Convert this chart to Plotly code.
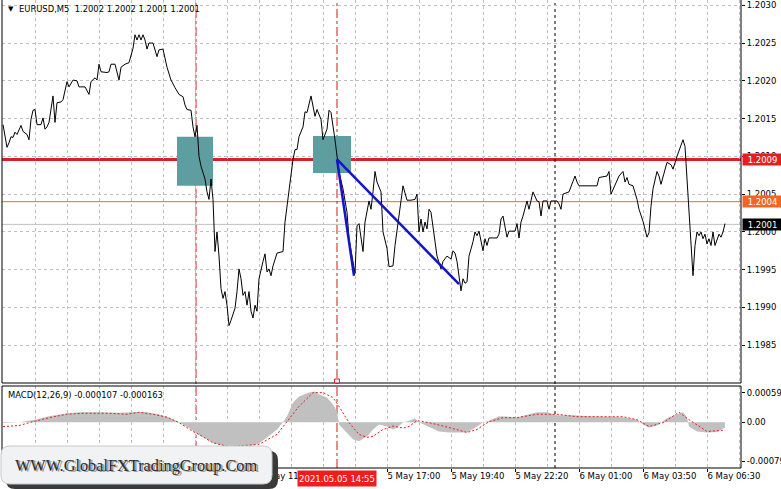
import plotly.graph_objects as go

# ---------------- data (bar index = M5 bars since 5 May 01:00) ----------------
bar_idx = [0, 2, 3, 4, 5, 6, 7, 9, 10, 12, 13, 14, 15, 16, 17, 19, 20, 21, 22, 23,
           25, 26, 27, 29, 30, 32, 33, 35, 37, 38, 41, 43, 44, 46, 47, 48, 49, 52, 53, 54,
           56, 58, 59, 61, 63, 65, 66, 67, 68, 69, 70, 71, 72, 73, 75, 77, 78, 80, 82, 84,
           86, 88, 90, 91, 92, 94, 95, 96, 97, 98, 99, 101, 102, 103, 104, 105, 106, 107, 108, 109,
           110, 111, 112, 113, 114, 116, 117, 118, 119, 120, 121, 122, 123, 124, 125, 126, 127, 128, 130, 131,
           132, 133, 134, 135, 137, 140, 141, 142, 143, 145, 146, 147, 148, 150, 151, 152, 154, 155, 156, 157,
           159, 160, 162, 163, 164, 166, 167, 168, 170, 172, 173, 175, 176, 177, 178, 180, 181, 183, 184, 185,
           186, 187, 189, 190, 192, 193, 195, 196, 198, 199, 200, 202, 204, 206, 207, 208, 209, 210, 211, 212,
           213, 214, 216, 217, 219, 220, 222, 224, 225, 226, 227, 228, 229, 230, 231, 232, 233, 235, 236, 237,
           238, 240, 241, 242, 243, 247, 248, 249, 250, 252, 253, 256, 257, 258, 259, 260, 262, 263, 265, 267,
           268, 269, 270, 272, 273, 274, 277, 278, 279, 280, 283, 285, 286, 287, 288, 297, 298, 302, 303, 304,
           306, 308, 310, 311, 312, 313, 315, 317, 318, 320, 322, 323, 324, 325, 327, 328, 329, 330, 332, 334,
           335, 337, 339, 340, 341, 342, 343, 344, 345, 346, 347, 348, 349, 350, 351, 352, 353, 354, 355, 356,
           357, 358, 359, 360, 361]
close = [1.20142, 1.20112, 1.20118, 1.20126, 1.20125, 1.20132, 1.20129, 1.20141, 1.20133, 1.20129,
         1.20122, 1.20149, 1.20161, 1.20162, 1.20142, 1.20142, 1.20151, 1.20136, 1.20139, 1.20145,
         1.20180, 1.20145, 1.20171, 1.20172, 1.20175, 1.20199, 1.20192, 1.20201, 1.20200, 1.20192,
         1.20192, 1.20182, 1.20199, 1.20204, 1.20201, 1.20222, 1.20212, 1.20211, 1.20212, 1.20222,
         1.20222, 1.20201, 1.20218, 1.20222, 1.20224, 1.20243, 1.20261, 1.20254, 1.20261, 1.20254,
         1.20261, 1.20254, 1.20242, 1.20250, 1.20250, 1.20232, 1.20241, 1.20242, 1.20218, 1.20201,
         1.20191, 1.20182, 1.20179, 1.20168, 1.20162, 1.20161, 1.20139, 1.20126, 1.20141, 1.20100,
         1.20087, 1.20070, 1.20053, 1.20043, 1.20070, 1.20043, 1.19974, 1.20000, 1.19968, 1.19925,
         1.19912, 1.19921, 1.19903, 1.19876, 1.19883, 1.19899, 1.19921, 1.19951, 1.19938, 1.19916,
         1.19921, 1.19903, 1.19921, 1.19895, 1.19886, 1.19903, 1.19895, 1.19938, 1.19961, 1.19971,
         1.19947, 1.19951, 1.19942, 1.19955, 1.19972, 1.19974, 1.20013, 1.20034, 1.20053, 1.20096,
         1.20109, 1.20109, 1.20126, 1.20139, 1.20159, 1.20158, 1.20180, 1.20164, 1.20153, 1.20162,
         1.20149, 1.20122, 1.20136, 1.20161, 1.20158, 1.20122, 1.20100, 1.20079, 1.20057, 1.20026,
         1.19991, 1.19961, 1.19945, 1.20008, 1.20011, 1.19974, 1.20013, 1.20041, 1.20030, 1.20053,
         1.20080, 1.20066, 1.20053, 1.20000, 1.19978, 1.19954, 1.19955, 1.19982, 1.20021, 1.20047,
         1.20061, 1.20042, 1.20042, 1.20043, 1.20050, 1.20000, 1.20017, 1.20000, 1.20013, 1.20004,
         1.20030, 1.20026, 1.19991, 1.19968, 1.19951, 1.19961, 1.19968, 1.19964, 1.19975, 1.19972,
         1.19961, 1.19938, 1.19922, 1.19938, 1.19932, 1.19934, 1.19968, 1.19987, 1.20000, 1.19995,
         1.20001, 1.19975, 1.19991, 1.19982, 1.19992, 1.19992, 1.19997, 1.20017, 1.20021, 1.19993,
         1.20001, 1.20001, 1.20011, 1.19992, 1.20013, 1.20021, 1.20041, 1.20030, 1.20053, 1.20041,
         1.20040, 1.20021, 1.20041, 1.20041, 1.20030, 1.20041, 1.20041, 1.20037, 1.20030, 1.20050,
         1.20053, 1.20067, 1.20074, 1.20066, 1.20061, 1.20061, 1.20072, 1.20074, 1.20080, 1.20050,
         1.20061, 1.20074, 1.20080, 1.20066, 1.20072, 1.20063, 1.20061, 1.20043, 1.20030, 1.20014,
         1.19993, 1.19999, 1.20034, 1.20057, 1.20080, 1.20074, 1.20063, 1.20072, 1.20092, 1.20089,
         1.20083, 1.20100, 1.20116, 1.20122, 1.20113, 1.20070, 1.20021, 1.19982, 1.19942, 1.19982,
         1.20000, 1.19995, 1.20000, 1.19991, 1.19997, 1.19984, 1.19991, 1.19982, 1.20000, 1.19982,
         1.19991, 1.19997, 1.19993, 1.20000, 1.20011]
assert len(bar_idx) == len(close)

macd_bars = [0, 8, 16, 23, 32, 38, 48, 58, 70, 78, 84, 88, 93, 98, 105, 113, 123, 128, 132, 137,
             140, 142, 145, 148, 153, 156, 158, 162, 165, 167, 168, 172, 175, 178, 182, 185, 188, 192, 195, 197,
             200, 203, 206, 208, 213, 218, 223, 232, 237, 240, 243, 248, 257, 263, 267, 272, 277, 285, 293, 310,
             317, 320, 323, 327, 332, 337, 340, 342, 343, 347, 352, 357, 361]
macd_vals = [-0.00002, 0.0, 0.00005, 0.00012, 0.00018, 0.00020, 0.00020, 0.00019, 0.00021, 0.00016,
             0.00008, 0.0, -0.00012, -0.00026, -0.00042, -0.00052, -0.00050, -0.00043, -0.00031, -0.00015,
             0.0, 0.00012, 0.00040, 0.00052, 0.00060, 0.00062, 0.00056, 0.00050, 0.00036, 0.00022,
             -0.00005, -0.00021, -0.00035, -0.00039, -0.00029, -0.00015, -0.00005, -0.00009, -0.00015, -0.00011,
             -0.00001, 0.00003, 0.00008, 0.0, -0.00009, -0.00019, -0.00021, -0.00021, -0.00009, 0.0,
             0.00003, 0.00012, 0.00010, 0.00016, 0.00020, 0.00020, 0.00014, 0.00014, 0.00012, 0.00010,
             0.00005, -0.00005, -0.00011, -0.00007, 0.00008, 0.00016, 0.00020, 0.00010, -0.00009, -0.00019,
             -0.00021, -0.00020, -0.000107]
sig_bars = [0, 8, 15, 23, 32, 40, 53, 62, 68, 75, 82, 88, 95, 98, 105, 113, 128, 137, 142, 148,
            155, 160, 165, 168, 173, 178, 182, 185, 190, 195, 200, 203, 207, 213, 223, 232, 237, 243, 250, 257,
            267, 277, 287, 310, 317, 323, 330, 338, 343, 352, 361]
sig_vals = [-0.00009, -0.00007, 0.00001, 0.00009, 0.00016, 0.00018, 0.00018, 0.00016, 0.00020, 0.00016,
            0.00010, -0.00001, -0.00019, -0.00025, -0.00042, -0.00050, -0.00045, -0.00025, 0.00001, 0.00032,
            0.00060, 0.00060, 0.00050, 0.00032, -0.00001, -0.00025, -0.00031, -0.00029, -0.00015, -0.00008,
            -0.00012, -0.00009, 0.00003, -0.00001, -0.00011, -0.00021, -0.00015, 0.00001, 0.00009, 0.00009,
            0.00016, 0.00016, 0.00011, 0.00011, 0.00005, -0.00009, -0.00001, 0.00020, 0.00005, -0.00019,
            -0.000163]

trend1_bars = [167, 175.5]
trend1_price = [1.20096, 1.19942]
trend2_bars = [167, 228]
trend2_price = [1.20096, 1.19931]

zone_bars = [(87, 105), (155, 174)]
zone_prices = [(1.20061, 1.20126), (1.20078, 1.20127)]

level_red = 1.20096
level_orange = 1.2004
bid_price = 1.2001
level_labels = ["1.2009", "1.2004", "1.2001"]

red_vlines = [96.5, 167]
day_sep = [276]

# tick labels that are not hidden behind the watermark / time marker
x_tick_bars = [128, 192, 224, 256, 288, 320, 352]
x_tick_text = ["5 May 11:40", "5 May 17:00", "5 May 19:40", "5 May 22:20",
               "6 May 01:00", "6 May 03:50", "6 May 06:30"]
grid_bars = list(range(0, 369, 16))
price_ticks = [1.1985, 1.1990, 1.1995, 1.2000, 1.2005, 1.2010, 1.2015, 1.2020, 1.2025, 1.2030]
macd_ticks = [0.000592, 0.0, -0.00079]
macd_tick_text = ["0.000592", "0.00", "-0.00079"]

title_text = "EURUSD,M5&nbsp;&nbsp;1.2002 1.2002 1.2001 1.2001"
macd_text = "MACD(12,26,9) -0.000107 -0.000163"
marker_time = "2021.05.05 14:55"
watermark = "WWW.GlobalFXTradingGroup.Com"

# ---------------- geometry helpers (pixel -> paper) ----------------
W, H = 781, 489
ML, MR, MT, MB = 2, 40, 0, 21
PW, PH = W - ML - MR, H - MT - MB


def PX(px):
    return (px - ML) / PW


def PY(py):
    return (H - MB - py) / PH


main_dom = [PY(383), 1.0]
macd_dom = [0.0, PY(386)]

FONT = "DejaVu Sans"
GRID = "#c0c0c0"

fig = go.Figure()

fig.add_trace(go.Scatter(x=macd_bars, y=macd_vals, mode="lines", fill="tozeroy",
                         fillcolor="#c0c0c0", line=dict(width=0, color="#c0c0c0"),
                         xaxis="x", yaxis="y2", hoverinfo="skip"))
fig.add_trace(go.Scatter(x=sig_bars, y=sig_vals, mode="lines",
                         line=dict(color="#e0201e", width=1, dash="2px,2px"),
                         xaxis="x", yaxis="y2", hoverinfo="skip"))
fig.add_trace(go.Scatter(x=bar_idx, y=close, mode="lines",
                         line=dict(color="black", width=1),
                         xaxis="x", yaxis="y", hoverinfo="skip"))
for bx, py in [(trend1_bars, trend1_price), (trend2_bars, trend2_price)]:
    fig.add_trace(go.Scatter(x=bx, y=py, mode="lines",
                             line=dict(color="#1414c8", width=2.5),
                             xaxis="x", yaxis="y", hoverinfo="skip"))

shapes = []
for (b0, b1), (p0, p1) in zip(zone_bars, zone_prices):
    shapes.append(dict(type="rect", xref="x", yref="y", x0=b0, x1=b1, y0=p0, y1=p1,
                       fillcolor="#5f9ea0", line=dict(width=0), layer="between"))
shapes.append(dict(type="line", xref="paper", yref="y", x0=0, x1=1, y0=bid_price, y1=bid_price,
                   line=dict(color="#c0c0c0", width=1), layer="between"))
shapes.append(dict(type="line", xref="paper", yref="y", x0=0, x1=1, y0=level_orange, y1=level_orange,
                   line=dict(color="#ee6a22", width=1), layer="between"))
shapes.append(dict(type="line", xref="paper", yref="y", x0=0, x1=1, y0=level_red, y1=level_red,
                   line=dict(color="#d42228", width=3), layer="between"))
for vb in red_vlines:
    shapes.append(dict(type="line", xref="x", yref="paper", x0=vb, x1=vb, y0=0, y1=1,
                       line=dict(color="#d01818", width=1, dash="dashdot"), layer="between"))
for vb in day_sep:
    shapes.append(dict(type="line", xref="x", yref="paper", x0=vb, x1=vb, y0=0, y1=1,
                       line=dict(color="black", width=1, dash="3px,3px"), layer="between"))

# panel frames
shapes.append(dict(type="path", xref="paper", yref="paper",
                   path=f"M 0,1 L 0,{main_dom[0]} L 1,{main_dom[0]} L 1,1",
                   line=dict(color="black", width=1), layer="above"))
shapes.append(dict(type="rect", xref="paper", yref="paper", x0=0, x1=1, y0=macd_dom[0], y1=macd_dom[1],
                   line=dict(color="black", width=1), fillcolor="rgba(0,0,0,0)", layer="above"))
# small anchor square of the vertical line
shapes.append(dict(type="rect", xref="x", yref="paper", x0=red_vlines[1] - 1.2, x1=red_vlines[1] + 1.2,
                   y0=PY(383), y1=PY(379), line=dict(color="#d01818", width=1),
                   fillcolor="white", layer="above"))


def rrect(x0, y0, x1, y1, r):
    ax0, ax1 = PX(x0), PX(x1)
    ay0, ay1 = PY(y0), PY(y1)
    rx, ry = r / PW, r / PH
    return (f"M {ax0 + rx},{ay0} L {ax1 - rx},{ay0} Q {ax1},{ay0} {ax1},{ay0 - ry} "
            f"L {ax1},{ay1 + ry} Q {ax1},{ay1} {ax1 - rx},{ay1} L {ax0 + rx},{ay1} "
            f"Q {ax0},{ay1} {ax0},{ay1 + ry} L {ax0},{ay0 - ry} Q {ax0},{ay0} {ax0 + rx},{ay0} Z")


shapes.append(dict(type="path", xref="paper", yref="paper", path=rrect(6, 451, 278, 489, 9),
                   fillcolor="#3a3a3a", line=dict(width=0), layer="above"))
shapes.append(dict(type="path", xref="paper", yref="paper", path=rrect(1, 446, 272, 484, 9),
                   fillcolor="#f1f2f4", line=dict(color="#c8c8c8", width=1), layer="above"))

ann = []
ann.append(dict(xref="paper", yref="paper", x=PX(6), y=PY(9), text="▼", showarrow=False,
                xanchor="left", yanchor="middle", font=dict(family=FONT, size=7, color="black")))
ann.append(dict(xref="paper", yref="paper", x=PX(17), y=PY(9), text=title_text, showarrow=False,
                xanchor="left", yanchor="middle", font=dict(family=FONT, size=8.4, color="black")))
ann.append(dict(xref="paper", yref="paper", x=PX(6), y=PY(395), text=macd_text, showarrow=False,
                xanchor="left", yanchor="middle", font=dict(family=FONT, size=8.4, color="black")))
for val, txt, bg in zip([level_red, level_orange, bid_price], level_labels,
                        ["#e61e22", "#f26522", "#000000"]):
    ann.append(dict(xref="paper", yref="y", x=1, y=val, text=txt, showarrow=False,
                    xanchor="left", yanchor="middle", xshift=1, width=39, height=11,
                    borderpad=0, bgcolor=bg, align="center",
                    font=dict(family=FONT, size=8.5, color="white")))
ann.append(dict(xref="x", yref="paper", x=red_vlines[1], y=PY(478.5), text=marker_time,
                showarrow=False, xanchor="center", yanchor="middle", width=78, height=15,
                borderpad=0, bgcolor="#f21c1c", font=dict(family=FONT, size=8.5, color="white")))
ann.append(dict(xref="paper", yref="paper", x=PX(137.5), y=PY(466.5), text=watermark, showarrow=False,
                xanchor="center", yanchor="middle",
                font=dict(family="Liberation Serif", size=16.3, color="#9a9a9a")))
ann.append(dict(xref="paper", yref="paper", x=PX(136), y=PY(465), text=watermark, showarrow=False,
                xanchor="center", yanchor="middle",
                font=dict(family="Liberation Serif", size=16.3, color="#2a2a2a")))

fig.update_layout(
    width=W, height=H, margin=dict(l=ML, r=MR, t=MT, b=MB, pad=0, autoexpand=False),
    paper_bgcolor="white", plot_bgcolor="white", showlegend=False,
    font=dict(family=FONT, size=8.5, color="black"),
    xaxis=dict(domain=[0, 1], range=[-0.5, 369], anchor="y2", automargin=False,
               tickmode="array", tickvals=x_tick_bars, ticktext=x_tick_text,
               ticklabelposition="outside right", ticks="outside", ticklen=3, tickcolor="black",
               showgrid=False,
               minor=dict(tickmode="array", tickvals=grid_bars, showgrid=True, gridcolor=GRID,
                          griddash="3px,3px", gridwidth=1, ticks=""),
               zeroline=False, showline=False, fixedrange=True,
               tickfont=dict(family=FONT, size=8.5, color="black")),
    yaxis=dict(domain=main_dom, range=[1.1980, 1.20307], side="right", anchor="x", automargin=False,
               tickmode="array", tickvals=price_ticks, ticktext=[f"{v:.4f}" for v in price_ticks],
               ticks="outside", ticklen=3, tickcolor="black",
               showgrid=True, gridcolor=GRID, griddash="3px,3px", gridwidth=1,
               zeroline=False, showline=False,
               tickfont=dict(family=FONT, size=8.5, color="black")),
    yaxis2=dict(domain=macd_dom, range=[-0.000932, 0.000734], side="right", anchor="x", automargin=False,
                tickmode="array", tickvals=macd_ticks, ticktext=macd_tick_text,
                ticks="outside", ticklen=3, tickcolor="black",
                showgrid=False, zeroline=False, showline=False,
                tickfont=dict(family=FONT, size=8.5, color="black")),
    shapes=shapes, annotations=ann,
)

fig.write_html("out.html", config={"displayModeBar": False},
               post_script="document.body.style.margin='0px';document.body.style.padding='0px';")
